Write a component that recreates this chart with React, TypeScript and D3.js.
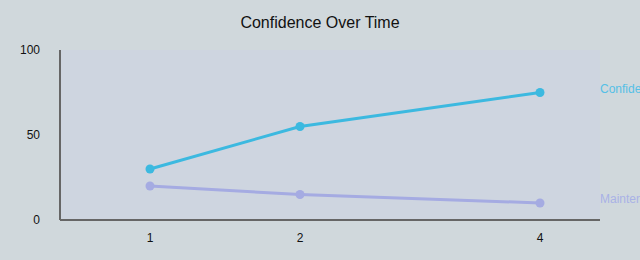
import React from "react";
import * as d3 from "d3";

const title = "Confidence Over Time";
const xValues = [1, 2, 4];
const xTickLabels = ["1", "2", "4"];
const confidence = [30, 55, 75];
const maintenance = [20, 15, 10];
const yTicks = [0, 50, 100];
const seriesNames = ["Confidence", "Maintenance"];

const W = 640;
const H = 260;
const margin = { left: 60, right: 40, top: 50, bottom: 40 };

export default function App() {
  const iw = W - margin.left - margin.right;
  const ih = H - margin.top - margin.bottom;
  const x = d3
    .scaleLinear()
    .domain([xValues[0], xValues[1], xValues[2]])
    .range([margin.left + iw / 6, margin.left + (iw * 4) / 9, margin.left + (iw * 8) / 9]);
  const y = d3.scaleLinear().domain([0, 100]).range([margin.top + ih, margin.top]);
  const line = d3
    .line<number>()
    .x((_, i) => x(xValues[i]))
    .y((d) => y(d));

  const series = [
    { name: seriesNames[0], data: confidence, color: "#3cb9e0", label: "#55c0e6" },
    { name: seriesNames[1], data: maintenance, color: "#a5abe2", label: "#a9b2e6" },
  ];

  return (
    <svg
      width={W}
      height={H}
      style={{ position: "absolute", left: 0, top: 0, background: "#d0d8dc", fontFamily: "Liberation Sans, Arial, sans-serif" }}
    >
      <rect x={0} y={0} width={W} height={H} fill="#d0d8dc" />
      <rect x={margin.left} y={margin.top} width={iw} height={ih} fill="#ced5e0" />
      <text x={W / 2} y={28} textAnchor="middle" fontSize={16} fill="#111">
        {title}
      </text>
      {yTicks.map((t) => (
        <text key={t} x={40} y={y(t)} dy="0.35em" textAnchor="end" fontSize={12} fill="#111">
          {t}
        </text>
      ))}
      {xValues.map((v, i) => (
        <text key={v} x={x(v)} y={margin.top + ih + 22} textAnchor="middle" fontSize={12} fill="#111">
          {xTickLabels[i]}
        </text>
      ))}
      <line x1={margin.left} x2={margin.left} y1={margin.top} y2={margin.top + ih} stroke="#666" strokeWidth={2} />
      <line x1={margin.left} x2={margin.left + iw} y1={margin.top + ih} y2={margin.top + ih} stroke="#666" strokeWidth={2} />
      {series.map((s) => (
        <g key={s.name}>
          <path d={line(s.data) || ""} fill="none" stroke={s.color} strokeWidth={3} />
          {s.data.map((d, i) => (
            <circle key={i} cx={x(xValues[i])} cy={y(d)} r={4.5} fill={s.color} />
          ))}
          <text
            x={margin.left + iw}
            y={y(s.data[s.data.length - 1]) - 4}
            dy="0.35em"
            fontSize={12}
            fill={s.label}
          >
            {s.name}
          </text>
        </g>
      ))}
    </svg>
  );
}
